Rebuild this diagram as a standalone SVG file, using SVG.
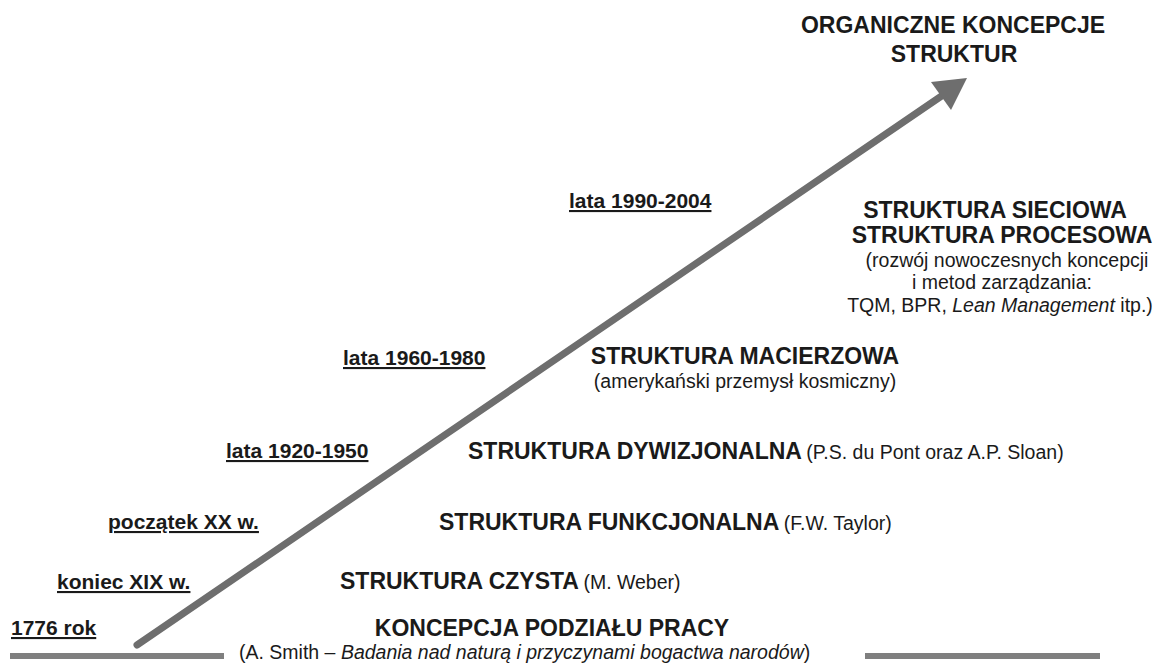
<svg xmlns="http://www.w3.org/2000/svg" width="1165" height="664" viewBox="0 0 1165 664">
<style>
text{font-family:"Liberation Sans",Arial,Helvetica,sans-serif;fill:#1a1a1a}
.lab{font-size:21px;font-weight:bold;text-decoration:underline}
.h{font-size:23px;font-weight:bold}
.r{font-size:19.5px;font-weight:normal}
.c{text-anchor:middle}
</style>
<rect width="1165" height="664" fill="#fff"/>
<g id="connectors">
<line x1="10" y1="656" x2="224" y2="656" stroke="#7f7f7f" stroke-width="6"/>
<line x1="865" y1="656" x2="1100" y2="656" stroke="#7f7f7f" stroke-width="6"/>
<line x1="137" y1="645" x2="943" y2="95" stroke="#6e6e6e" stroke-width="7" stroke-linecap="round"/>
<polygon points="967,78 931,82 951,110" fill="#6e6e6e"/>
</g>
<g id="node-organiczne">
<text class="h c" x="953" y="33" font-size="23.5">ORGANICZNE KONCEPCJE</text>
<text class="h c" x="954" y="62" font-size="23.5">STRUKTUR</text>
</g>
<g id="node-1990">
<text class="lab" x="569" y="208">lata 1990-2004</text>
<text class="h c" x="995" y="218">STRUKTURA SIECIOWA</text>
<text class="h c" x="1002" y="243">STRUKTURA PROCESOWA</text>
<text class="r c" x="1007" y="267">(rozwój nowoczesnych koncepcji</text>
<text class="r c" x="1002" y="289">i metod zarządzania:</text>
<text class="r c" x="1000" y="312">TQM, BPR, <tspan font-style="italic">Lean Management</tspan> itp.)</text>
</g>
<g id="node-1960">
<text class="lab" x="343" y="365">lata 1960-1980</text>
<text class="h c" x="745" y="364">STRUKTURA MACIERZOWA</text>
<text class="r c" x="745" y="388">(amerykański przemysł kosmiczny)</text>
</g>
<g id="node-1920">
<text class="lab" x="226" y="458">lata 1920-1950</text>
<text x="468" y="459"><tspan class="h" font-size="24">STRUKTURA DYWIZJONALNA</tspan> <tspan class="r">(P.S. du Pont oraz A.P. Sloan)</tspan></text>
</g>
<g id="node-xx">
<text class="lab" x="108" y="529">początek XX w.</text>
<text x="439" y="530"><tspan class="h" font-size="22.5">STRUKTURA FUNKCJONALNA</tspan> <tspan class="r">(F.W. Taylor)</tspan></text>
</g>
<g id="node-xix">
<text class="lab" x="57" y="589">koniec XIX w.</text>
<text x="340" y="589"><tspan class="h">STRUKTURA CZYSTA</tspan> <tspan class="r">(M. Weber)</tspan></text>
</g>
<g id="node-1776">
<text class="lab" x="11" y="635">1776 rok</text>
<text class="h c" x="552" y="636" font-size="23.5">KONCEPCJA PODZIAŁU PRACY</text>
<text class="r" x="239" y="659" font-size="21">(A. Smith – <tspan font-style="italic">Badania nad naturą i przyczynami bogactwa narodów</tspan>)</text>
</g>
</svg>
